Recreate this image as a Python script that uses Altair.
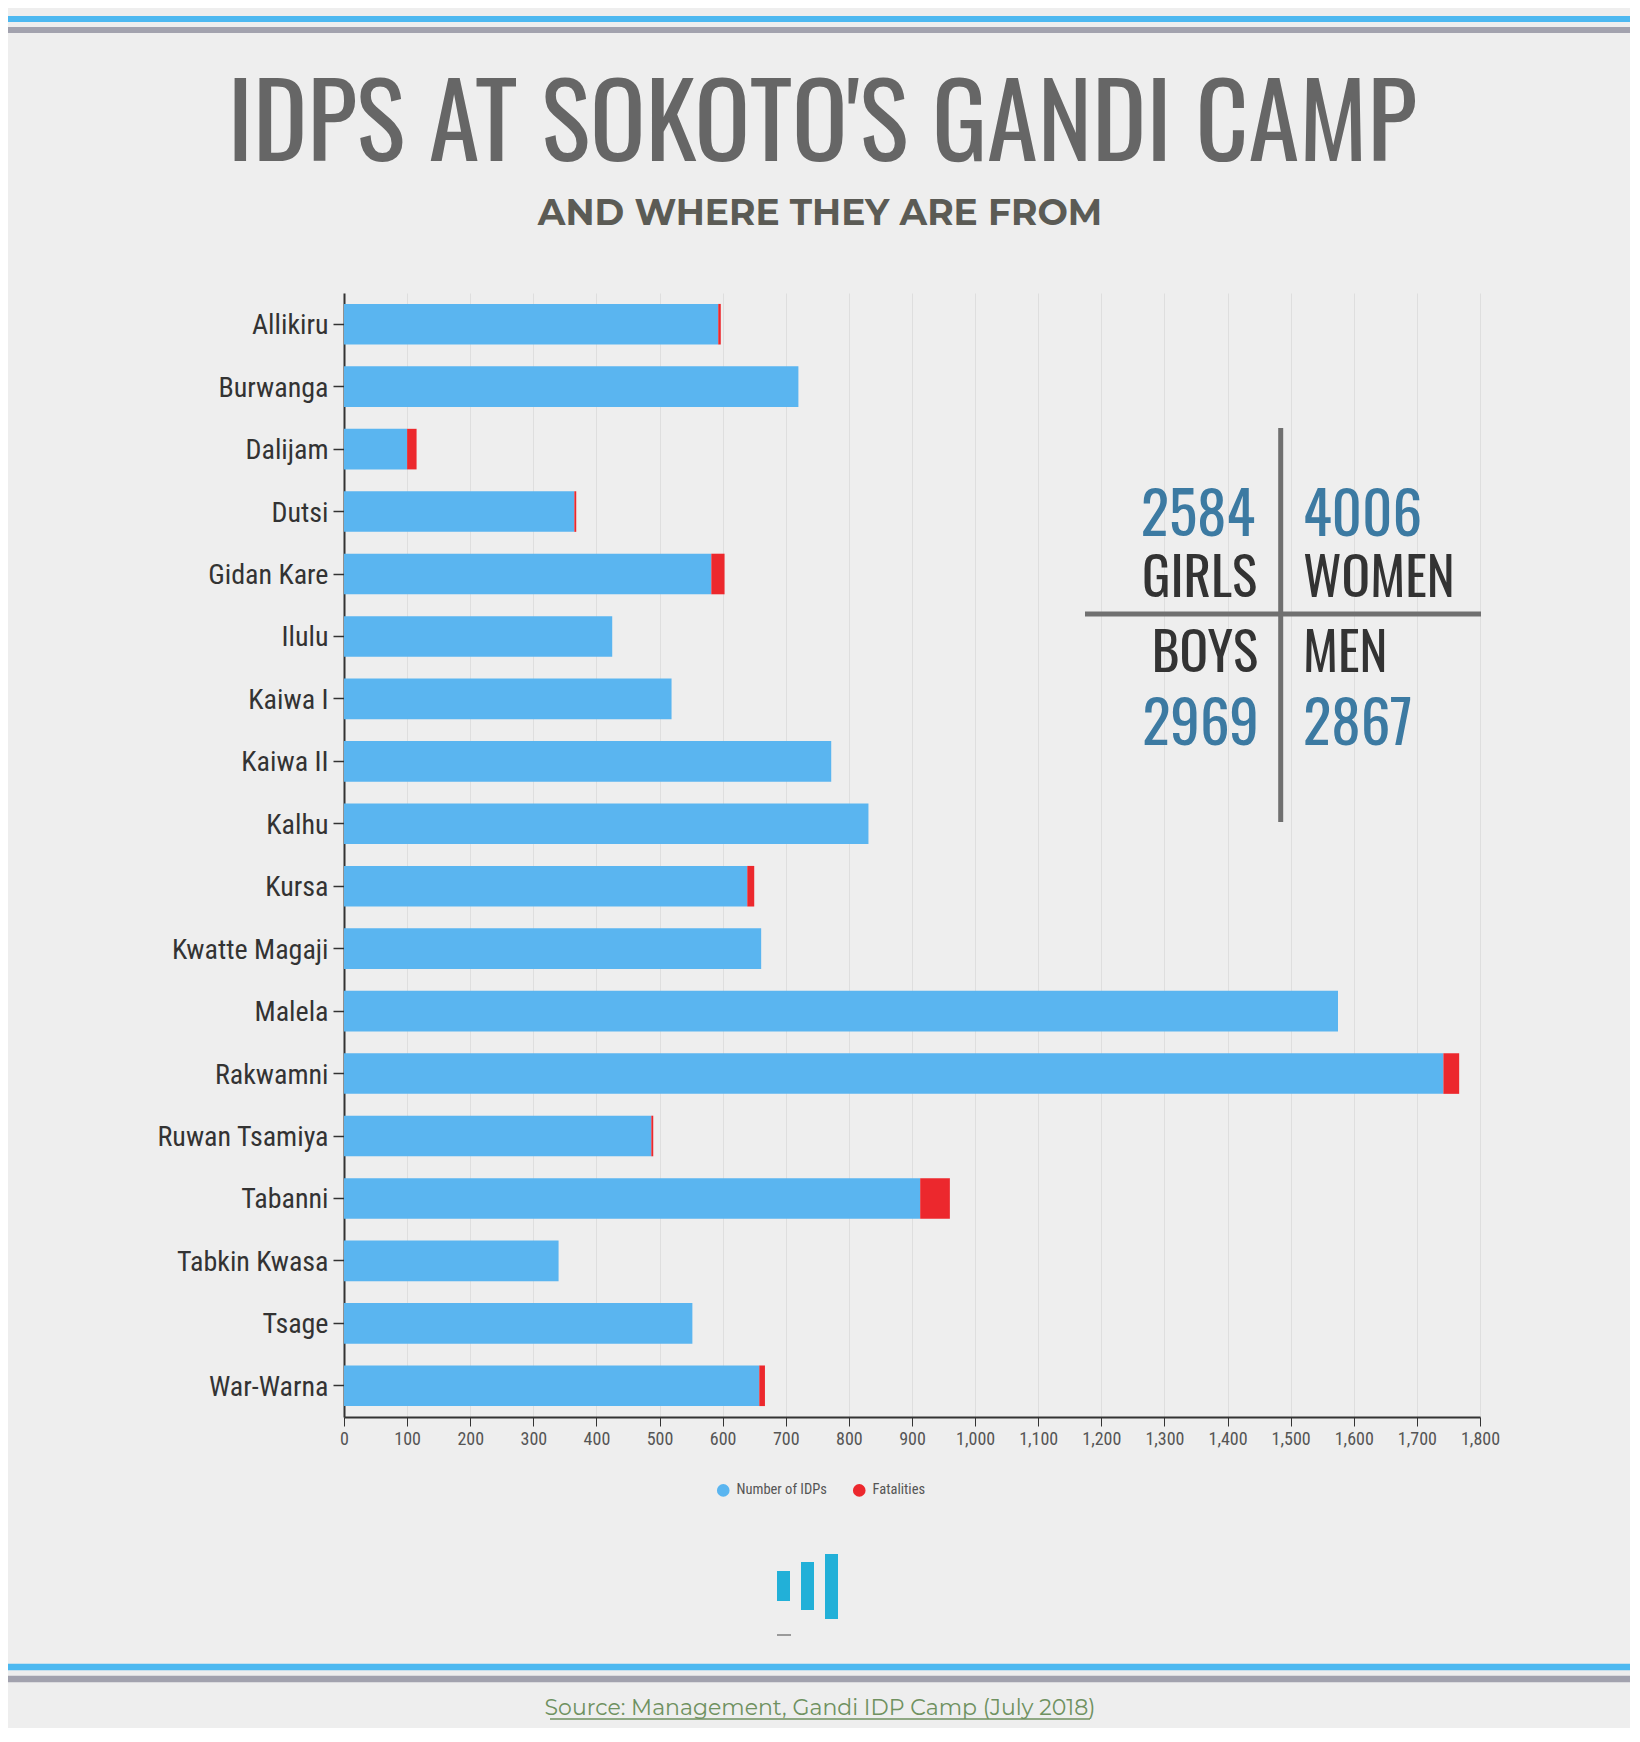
import altair as alt
import pandas as pd

# ---------------- data ----------------
locations = ["Allikiru", "Burwanga", "Dalijam", "Dutsi", "Gidan Kare", "Ilulu",
             "Kaiwa I", "Kaiwa II", "Kalhu", "Kursa", "Kwatte Magaji", "Malela",
             "Rakwamni", "Ruwan Tsamiya", "Tabanni", "Tabkin Kwasa", "Tsage", "War-Warna"]
idps = [593, 720, 100, 365, 582, 425, 519, 772, 831, 639, 661, 1575, 1742, 487, 913, 340, 552, 658]
fatalities = [4, 0, 15, 3, 21, 0, 0, 0, 0, 11, 0, 0, 25, 3, 47, 0, 0, 9]

series_names = ["Number of IDPs", "Fatalities"]
series_colors = ["#5ab5f0", "#ec282d"]
x_ticks = list(range(0, 1801, 100))

title_text = "IDPS AT SOKOTO'S GANDI CAMP"
subtitle_text = "AND WHERE THEY ARE FROM"
source_text = "Source: Management, Gandi IDP Camp (July 2018)"
quad_numbers = ["2584", "4006", "2969", "2867"]
quad_labels = ["GIRLS", "WOMEN", "BOYS", "MEN"]

rows = []
for loc, a, f in zip(locations, idps, fatalities):
    rows.append({"location": loc, "series": series_names[0], "value": a, "order": 0})
    rows.append({"location": loc, "series": series_names[1], "value": f, "order": 1})
df = pd.DataFrame(rows)

# ---------------- style ----------------
W, H = 1136, 1124
NARROW = "Oswald, 'Liberation Sans Narrow', 'Arial Narrow', 'DejaVu Sans Condensed', sans-serif"
LABELF = "'Roboto Condensed', 'Liberation Sans Narrow', 'Arial Narrow', sans-serif"
WIDE = "Montserrat, 'DejaVu Sans', sans-serif"
one = pd.DataFrame({"k": [0]})


def rule(x1, x2, y1, y2, color, width):
    return alt.Chart(one).mark_rule(color=color, strokeWidth=width).encode(
        x=alt.value(x1), x2=alt.value(x2), y=alt.value(y1), y2=alt.value(y2))


def box(x1, x2, y1, y2, color):
    return alt.Chart(one).mark_rect(color=color).encode(
        x=alt.value(x1), x2=alt.value(x2), y=alt.value(y1), y2=alt.value(y2))


def label(text, x, y, size, color, font, align="center", weight="normal"):
    return alt.Chart(one).mark_text(
        text=text, font=font, fontSize=size, color=color, align=align,
        baseline="alphabetic", fontWeight=weight).encode(x=alt.value(x), y=alt.value(y))


bars = alt.Chart(df).transform_filter("datum.value > 0").mark_bar().encode(
    y=alt.Y("location:N", sort=locations,
            scale=alt.Scale(paddingInner=0.35, paddingOuter=0.175),
            axis=alt.Axis(title=None, labelFont=LABELF, labelFontSize=28, labelColor="#333333",
                          tickColor="#333333", tickSize=11, tickWidth=1.5, labelOffset=2,
                          domainColor="#333333", domainWidth=2, labelPadding=5, grid=False)),
    x=alt.X("value:Q", stack="zero",
            scale=alt.Scale(domain=[0, 1800], nice=False),
            axis=alt.Axis(values=x_ticks, format=",d", title=None, labelFont=LABELF,
                          labelFontSize=18, labelColor="#555555", tickColor="#333333",
                          tickSize=9, domainColor="#333333", domainWidth=2,
                          gridColor="#dedede", gridWidth=1, labelPadding=4, labelFlush=False)),
    color=alt.Color("series:N", scale=alt.Scale(domain=series_names, range=series_colors),
                    legend=alt.Legend(title=None, orient="none", legendX=372, legendY=1190,
                                      direction="horizontal", symbolType="circle",
                                      symbolSize=160, symbolStrokeWidth=0,
                                      labelFont=LABELF, labelFontSize=14.5,
                                      labelColor="#555555", columnPadding=25, labelOffset=6)),
    order=alt.Order("order:Q"),
)

NUM_C = "#3c7aa2"
LAB_C = "#333333"
layers = [
    rule(-336, 1286, -274, -274, "#4db8f0", 6),
    rule(-336, 1286, -263, -263, "#a2a2ae", 6),
    label(title_text, 478, -132, 103, "#666666", NARROW),
    label(subtitle_text, 476, -68, 36, "#5b5b55", WIDE, weight="bold"),
    bars,
    rule(936.7, 936.7, 135, 529, "#707070", 5),
    rule(741, 1137, 321, 321, "#707070", 5),
    label(quad_numbers[0], 911, 243, 59, NUM_C, NARROW, align="right"),
    label(quad_labels[0], 913, 304, 53, LAB_C, NARROW, align="right"),
    label(quad_numbers[1], 959, 243, 59, NUM_C, NARROW, align="left"),
    label(quad_labels[1], 959, 304, 53, LAB_C, NARROW, align="left"),
    label(quad_labels[2], 914, 379, 53, LAB_C, NARROW, align="right"),
    label(quad_labels[3], 959, 379, 53, LAB_C, NARROW, align="left"),
    label(quad_numbers[2], 915, 452, 59, NUM_C, NARROW, align="right"),
    label(quad_numbers[3], 959, 452, 59, NUM_C, NARROW, align="left"),
    box(433, 446, 1278, 1308, "#22b0d8"),
    box(457, 470, 1269, 1317, "#22b0d8"),
    box(481, 494, 1261, 1326, "#22b0d8"),
    rule(433, 447, 1342, 1342, "#9a9a9a", 2),
    rule(-336, 1286, 1374, 1374, "#4db8f0", 6.5),
    rule(-336, 1286, 1386, 1386, "#a2a2ae", 6.5),
    label(source_text, 476, 1422, 22, "#6f9160", WIDE),
    rule(206, 746, 1426, 1426, "#6f9160", 1.5),
]

chart = alt.layer(*layers).properties(
    width=W, height=H, background="#eeeeee",
    padding={"left": 336, "top": 285, "right": 150, "bottom": 311},
    autosize=alt.AutoSizeParams(type="none"),
).configure_view(stroke=None)

chart.save("out.html", embed_options={"renderer": "svg", "actions": False})
